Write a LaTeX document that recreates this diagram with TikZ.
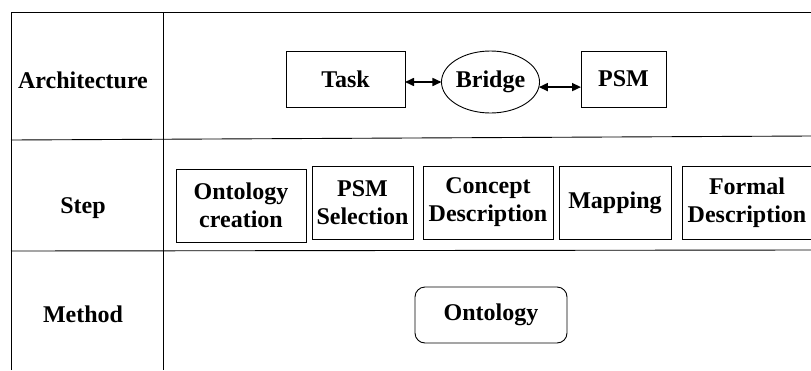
\documentclass[tikz,border=0pt]{standalone}
\usepackage{fontspec}
\setmainfont{Liberation Serif}
\usetikzlibrary{arrows.meta,shapes.geometric}
\begin{document}
\begin{tikzpicture}[x=1pt,y=-1pt,
  lbl/.style={font=\fontsize{24}{28}\selectfont\bfseries, align=center, inner sep=0pt, outer sep=0pt},
  box/.style={lbl, draw, line width=0.9pt},
  frame/.style={line width=0.9pt},
  link/.style={line width=1.6pt, {Triangle[length=9pt,width=8pt]}-{Triangle[length=9pt,width=8pt]}}]
\useasboundingbox (0,0) rectangle (811,370);
\clip (0,0) rectangle (811,370);
% frame
\draw[frame] (11,370) -- (11,12) -- (811,12);
\draw[frame] (163,12) -- (163,370);
\draw[frame] (11,140) -- (811,136);
\draw[frame] (11,251) -- (811,250);
% row labels
\node[lbl] (arch) at (83,80) {Architecture};
\node[lbl] (step) at (83,208) {Step};
\node[lbl] (method) at (83,314) {Method};
% architecture row
\node[box, minimum width=119pt, minimum height=56pt] (task) at (345.5,79) {Task};
\node[box, ellipse, minimum width=93pt, minimum height=62pt] (bridge) at (490.5,82) {Bridge};
\node[box, minimum width=85pt, minimum height=56pt] (psm) at (623.5,79) {PSM};
\draw[link] (bridge.west -| task.east) -- (bridge.west);
\draw[link] (bridge.-6) -- (bridge.-6 -| psm.west);
% step row
\node[box, minimum width=130pt, minimum height=73pt] (oc) at (241,205.5) {Ontology\\creation};
\node[box, minimum width=101pt, minimum height=73pt] (psmsel) at (362.5,202.5) {PSM\\Selection};
\node[box, minimum width=130pt, minimum height=73pt] (cd) at (488,202.5) {Concept\\Description};
\node[box, minimum width=112pt, minimum height=73pt] (map) at (615,202.5) {Mapping};
\node[box, minimum width=130pt, minimum height=73pt] (fd) at (747,202.5) {Formal\\Description};
% method row
\node[box, rounded corners=10pt, minimum width=152pt, minimum height=56pt] (onto) at (491,315) {Ontology};
\end{tikzpicture}
\end{document}
